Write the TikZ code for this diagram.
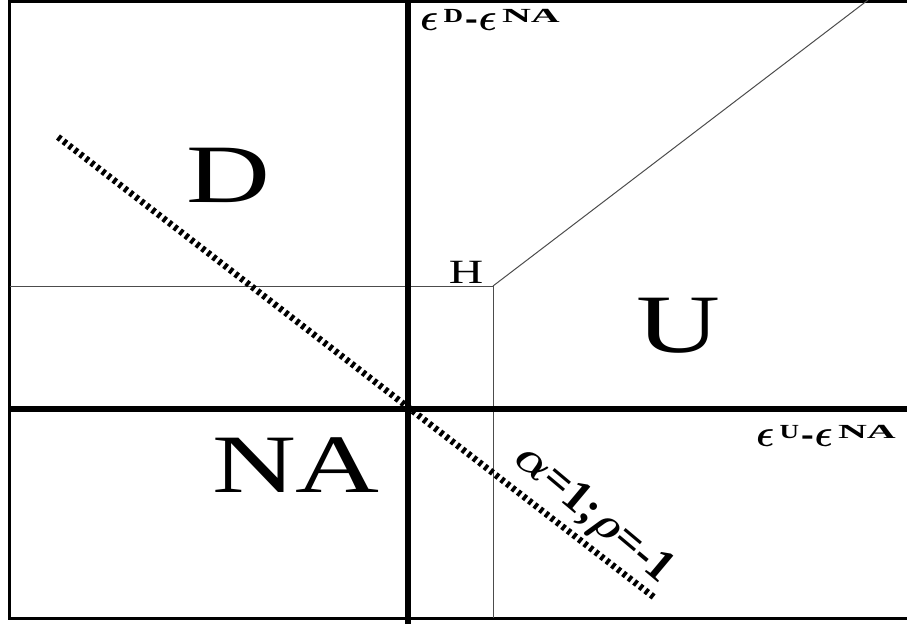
\RequirePackage{fix-cm}
\documentclass[tikz,border=0pt]{standalone}
\usepackage{fontspec}
\usepackage{amsmath,bm}
\setmainfont{Liberation Serif}
\newfontfamily\widefont[FakeStretch=1.4]{Liberation Serif}
\newfontfamily\supfont[FakeStretch=1.35]{Liberation Serif}
\newfontfamily\supwide[FakeStretch=2]{Liberation Serif}
\usetikzlibrary{positioning}

\tikzset{
  axis/.style={line width=6pt},
  border/.style={line width=3pt},
  thinline/.style={line width=1pt, black!70},
  hatchline/.style={line width=6.5pt, dash pattern=on 3.5pt off 3.5pt},
  region/.style={font=\widefont\fontsize{83}{83}\selectfont, inner sep=0pt},
  axislabel/.style={font=\fontsize{38}{38}\selectfont\bfseries\boldmath, inner sep=0pt}
}
\newcommand{\epslab}[2]{$\bm{\epsilon}$\kern5pt\raisebox{8pt}{\supfont\bfseries\fontsize{20}{20}\selectfont #1}\kern2pt-\kern1pt$\bm{\epsilon}$\kern5pt\raisebox{8pt}{\supwide\bfseries\fontsize{20}{20}\selectfont #2}}

\begin{document}
\begin{tikzpicture}[x=1pt,y=-1pt]
        \useasboundingbox (0,0) rectangle (907,624);
        \clip (0,0) rectangle (907,624);
        % corners and axes
        \coordinate (tl) at (9.5,1.5);
        \coordinate (tr) at (910,1.5);
        \coordinate (bl) at (9.5,618.5);
        \coordinate (br) at (910,618.5);
        \coordinate (O) at (408,409);
        \coordinate (ytop) at (408,0);
        \coordinate (ybot) at (408,624);
        \coordinate (xleft) at (9.5,409);
        \coordinate (xright) at (910,409);
        \coordinate (h) at (493,286);
        \coordinate (hleft) at (9.5,286);
        \coordinate (hbot) at (493,618);
        \coordinate (hend) at (868,0);
        \coordinate (ds) at (58,137);
        \coordinate (de) at (655,598);
        % frame
        \draw[border] (tr) -- (tl) -- (bl) -- (br);
        % thin lines
        \draw[thinline] (hleft) -- (h) -- (hbot);
        \draw[thinline] (h) -- (hend);
        % axes
        \draw[axis] (ytop) -- (ybot);
        \draw[axis] (xleft) -- (xright);
        % line alpha=1, rho=-1
        \draw[hatchline] (ds) -- (de);
        % labels
        \node[region] (D) at (228,175) {D};
        \node[region] (U) at (678,326) {U};
        \node[region] (NA) at (296,465) {NA};
        \node[font=\widefont\fontsize{34}{34}\selectfont, inner sep=0pt, anchor=base] (H) at (466,283) {H};
        \node[axislabel, anchor=base west] (ylab) at (420,30) {\epslab{D}{NA}};
        \node[axislabel, anchor=base west] (xlab) at (756,446) {\epslab{U}{NA}};
        \node[font=\fontsize{46}{46}\selectfont\bfseries\boldmath, inner sep=0pt, rotate=-40, anchor=base] (rho) at (586,523) {$\alpha$=1;$\rho$=-1};
\end{tikzpicture}
\end{document}
